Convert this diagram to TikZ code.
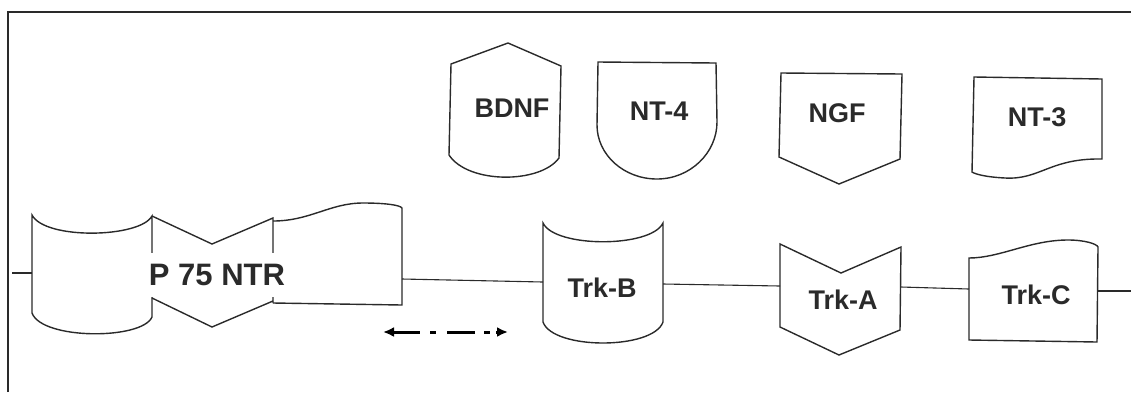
\documentclass[tikz,border=0pt]{standalone}
\usepackage{fontspec}
\setmainfont{Liberation Sans}
\usetikzlibrary{arrows.meta}
\definecolor{ink}{HTML}{2A2A2A}
\tikzset{
  outline/.style={draw=ink, line width=1.4pt, line join=miter},
  wire/.style={draw=ink, line width=1.1pt},
  lbl/.style={inner sep=0pt, text=ink, font=\bfseries\fontsize{27}{30}\selectfont},
  biglbl/.style={lbl, font=\bfseries\fontsize{31}{34}\selectfont},
  flow/.style={draw=black, line width=3pt}
}
\begin{document}
\begin{tikzpicture}[x=1pt, y=-1pt]
\useasboundingbox (0,0) rectangle (1131,392);

% frame
\draw[draw=ink, line width=2pt] (8,392) -- (8,12) -- (1131,12);

% ---- ligands ----
% BDNF
\draw[outline] (451,64) -- (508,43) -- (561,66) -- (559,158)
  .. controls (540,184) and (468,184) .. (449,155) -- cycle;
\node[lbl] (bdnf) at (512,108) {BDNF};

% NT-4
\draw[outline] (597,125) -- (598,62) -- (716,63) -- (717,122)
  .. controls (717,153) and (690,179) .. (657,179)
  .. controls (624,179) and (597,155) .. (597,125) -- cycle;
\node[lbl] (nt4) at (659,111) {NT-4};

% NGF
\draw[outline] (781,73) -- (902,74) -- (900,159) -- (839,184) -- (779,157) -- cycle;
\node[lbl] (ngf) at (837,113) {NGF};

% NT-3
\draw[outline] (974,77) -- (1102,79) -- (1102,159)
  .. controls (1050,158) and (1040,180) .. (1005,178)
  .. controls (985,177) and (975,174) .. (972,172) -- cycle;
\node[lbl] (nt3) at (1037,117) {NT-3};

% ---- receptors ----
% P 75 NTR: three joined segments
\draw[outline] (32,215) .. controls (45,240) and (140,238) .. (152,216)
  -- (152,317) .. controls (142,340) and (42,340) .. (32,313) -- cycle;
\draw[outline] (152,216) -- (212,244) -- (273,218) -- (273,303);
\draw[outline] (152,298) -- (212,327) -- (273,301);
\draw[outline] (273,221) .. controls (310,221) and (330,203) .. (363,203)
  .. controls (385,203) and (400,205) .. (402,208)
  -- (402,305) -- (273,303);
\node[biglbl, fill=white, inner xsep=3pt, inner ysep=11pt] (p75) at (217,275) {P 75 NTR};

% Trk-B
\draw[outline] (543,223) .. controls (555,248) and (651,248) .. (663,223)
  -- (663,322) .. controls (653,350) and (553,350) .. (543,322) -- cycle;
\node[lbl] (trkb) at (602,288) {Trk-B};

% Trk-A
\draw[outline] (780,244) -- (841,273) -- (901,247) -- (900,330) -- (839,355) -- (780,327) -- cycle;
\node[lbl] (trka) at (843,300) {Trk-A};

% Trk-C
\draw[outline] (969,258) .. controls (1000,258) and (1030,240) .. (1068,240)
  .. controls (1085,240) and (1097,244) .. (1098,247)
  -- (1097,342) -- (969,340) -- cycle;
\node[lbl] (trkc) at (1036,295) {Trk-C};

% ---- membrane line ----
\coordinate (memL) at (12,273);
\coordinate (p75W) at (32,273);
\coordinate (p75E) at (402,279);
\coordinate (trkbW) at (543,282);
\coordinate (trkbE) at (663,284);
\coordinate (trkaW) at (780,286);
\coordinate (trkaE) at (901,287);
\coordinate (trkcW) at (969,289);
\coordinate (trkcE) at (1098,291);
\coordinate (memR) at (1131,291);
\draw[wire] (memL) -- (p75W);
\draw[wire] (p75E) -- (trkbW);
\draw[wire] (trkbE) -- (trkaW);
\draw[wire] (trkaE) -- (trkcW);
\draw[wire] (trkcE) -- (memR);

% ---- two-way dash-dot arrow ----
\coordinate (dL) at (383,332);
\coordinate (d1) at (420,332);
\coordinate (d2) at (430,332);
\coordinate (d3) at (436,332);
\coordinate (d4) at (447,332);
\coordinate (d5) at (475,332);
\coordinate (d6) at (484,332);
\coordinate (d7) at (490,332);
\coordinate (d8) at (496,332);
\coordinate (dR) at (508,332);
\draw[flow, {Latex[length=11pt,width=10pt]}-] (dL) -- (d1);
\draw[flow] (d2) -- (d3);
\draw[flow] (d4) -- (d5);
\draw[flow] (d6) -- (d7);
\draw[flow, -{Latex[length=11pt,width=10pt]}] (d8) -- (dR);
\end{tikzpicture}
\end{document}
